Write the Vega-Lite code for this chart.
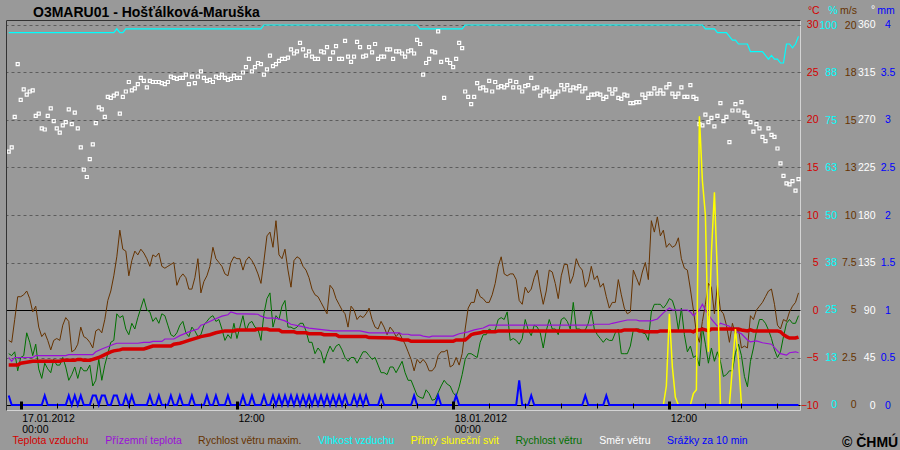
{
  "$schema": "https://vega.github.io/schema/vega-lite/v6.json",
  "width": 794,
  "height": 390,
  "autosize": {"type": "none"},
  "padding": {"left": 6, "top": 20, "right": 100, "bottom": 40},
  "background": "#999999",
  "config": {
    "view": {"stroke": "#d4d4d4", "strokeWidth": 1},
    "font": "Liberation Sans",
    "axis": {"labelFont": "Liberation Sans", "titleFont": "Liberation Sans", "labelFontSize": 10.5, "titleFontSize": 10.5, "titleFontWeight": "normal", "domain": false, "grid": false, "ticks": false, "tickSize": 0, "labelOverlap": false, "labelFlush": false, "labelBound": false}
  },
  "datasets": {
    "temp": [{"m":-40,"v":-5.8},{"m":-10,"v":-5.8},{"m":0,"v":-5.6},{"m":20,"v":-5.5},{"m":40,"v":-5.4},{"m":130,"v":-5.4},{"m":140,"v":-5.3},{"m":180,"v":-5.3},{"m":190,"v":-5.2},{"m":200,"v":-5.2},{"m":210,"v":-5.3},{"m":230,"v":-5.3},{"m":240,"v":-5.2},{"m":260,"v":-5.0},{"m":280,"v":-4.7},{"m":300,"v":-4.4},{"m":310,"v":-4.3},{"m":330,"v":-4.2},{"m":340,"v":-4.1},{"m":410,"v":-4.1},{"m":420,"v":-4.0},{"m":440,"v":-3.8},{"m":500,"v":-3.8},{"m":510,"v":-3.6},{"m":530,"v":-3.5},{"m":540,"v":-3.4},{"m":560,"v":-3.2},{"m":590,"v":-2.9},{"m":600,"v":-2.8},{"m":630,"v":-2.6},{"m":650,"v":-2.4},{"m":680,"v":-2.2},{"m":710,"v":-2.2},{"m":720,"v":-2.1},{"m":780,"v":-2.1},{"m":790,"v":-2.0},{"m":820,"v":-2.0},{"m":830,"v":-2.1},{"m":860,"v":-2.1},{"m":870,"v":-2.3},{"m":910,"v":-2.3},{"m":920,"v":-2.4},{"m":950,"v":-2.4},{"m":960,"v":-2.5},{"m":1000,"v":-2.5},{"m":1010,"v":-2.6},{"m":1050,"v":-2.6},{"m":1060,"v":-2.8},{"m":1150,"v":-2.8},{"m":1160,"v":-2.9},{"m":1240,"v":-2.95},{"m":1250,"v":-3.0},{"m":1270,"v":-3.15},{"m":1290,"v":-3.15},{"m":1300,"v":-3.3},{"m":1440,"v":-3.3},{"m":1450,"v":-3.15},{"m":1480,"v":-3.15},{"m":1490,"v":-2.9},{"m":1500,"v":-2.6},{"m":1510,"v":-2.5},{"m":1530,"v":-2.4},{"m":1540,"v":-2.3},{"m":1580,"v":-2.3},{"m":1590,"v":-2.2},{"m":2000,"v":-2.2},{"m":2010,"v":-2.1},{"m":2050,"v":-2.1},{"m":2060,"v":-2.2},{"m":2070,"v":-2.2},{"m":2080,"v":-2.3},{"m":2120,"v":-2.3},{"m":2130,"v":-2.2},{"m":2230,"v":-2.2},{"m":2240,"v":-2.3},{"m":2250,"v":-2.1},{"m":2260,"v":-2.1},{"m":2270,"v":-2.0},{"m":2280,"v":-2.1},{"m":2290,"v":-2.2},{"m":2300,"v":-2.0},{"m":2390,"v":-2.0},{"m":2400,"v":-2.1},{"m":2420,"v":-2.2},{"m":2430,"v":-2.1},{"m":2440,"v":-2.2},{"m":2520,"v":-2.2},{"m":2530,"v":-2.3},{"m":2540,"v":-2.6},{"m":2550,"v":-2.8},{"m":2560,"v":-2.95},{"m":2580,"v":-2.95},{"m":2590,"v":-2.85}],
    "ground": [{"m":-40,"v":-5.0},{"m":-30,"v":-5.4},{"m":-20,"v":-5.0},{"m":40,"v":-5.0},{"m":50,"v":-4.8},{"m":150,"v":-4.8},{"m":160,"v":-4.7},{"m":240,"v":-4.7},{"m":250,"v":-4.4},{"m":270,"v":-4.1},{"m":310,"v":-3.6},{"m":320,"v":-3.5},{"m":390,"v":-3.5},{"m":410,"v":-3.4},{"m":430,"v":-3.4},{"m":440,"v":-3.3},{"m":470,"v":-3.3},{"m":480,"v":-3.05},{"m":510,"v":-3.05},{"m":530,"v":-2.7},{"m":560,"v":-2.3},{"m":590,"v":-2.0},{"m":600,"v":-1.6},{"m":610,"v":-1.5},{"m":640,"v":-1.05},{"m":670,"v":-0.65},{"m":690,"v":-0.5},{"m":700,"v":-0.2},{"m":720,"v":-0.4},{"m":740,"v":-0.4},{"m":790,"v":-0.45},{"m":800,"v":-0.65},{"m":820,"v":-0.85},{"m":850,"v":-0.85},{"m":880,"v":-1.15},{"m":900,"v":-1.5},{"m":930,"v":-1.7},{"m":960,"v":-1.9},{"m":1010,"v":-2.1},{"m":1040,"v":-2.2},{"m":1130,"v":-2.2},{"m":1160,"v":-2.4},{"m":1260,"v":-2.4},{"m":1270,"v":-2.55},{"m":1290,"v":-2.55},{"m":1300,"v":-2.65},{"m":1330,"v":-2.65},{"m":1340,"v":-2.75},{"m":1360,"v":-2.85},{"m":1370,"v":-2.75},{"m":1440,"v":-2.75},{"m":1460,"v":-2.5},{"m":1490,"v":-2.3},{"m":1510,"v":-2.1},{"m":1540,"v":-1.9},{"m":1560,"v":-1.6},{"m":1900,"v":-1.6},{"m":1910,"v":-1.5},{"m":1960,"v":-1.5},{"m":1970,"v":-1.4},{"m":2020,"v":-1.05},{"m":2050,"v":-1.05},{"m":2060,"v":-1.15},{"m":2100,"v":-1.15},{"m":2120,"v":-0.95},{"m":2140,"v":-0.3},{"m":2160,"v":0.2},{"m":2170,"v":0.0},{"m":2220,"v":0.0},{"m":2230,"v":-0.2},{"m":2240,"v":-0.6},{"m":2260,"v":0.0},{"m":2270,"v":0.6},{"m":2280,"v":0.0},{"m":2300,"v":-0.95},{"m":2320,"v":-1.7},{"m":2330,"v":-1.4},{"m":2340,"v":-1.5},{"m":2360,"v":-1.7},{"m":2370,"v":-2.1},{"m":2400,"v":-2.5},{"m":2420,"v":-3.15},{"m":2430,"v":-3.35},{"m":2450,"v":-3.25},{"m":2470,"v":-3.45},{"m":2500,"v":-3.6},{"m":2520,"v":-4.3},{"m":2530,"v":-4.6},{"m":2550,"v":-4.75},{"m":2560,"v":-4.5},{"m":2580,"v":-4.4},{"m":2590,"v":-4.5}],
    "hum": [{"m":-40,"v":98},{"m":310,"v":98},{"m":320,"v":99},{"m":330,"v":98},{"m":340,"v":98},{"m":350,"v":99},{"m":800,"v":99},{"m":810,"v":100},{"m":1320,"v":100},{"m":1330,"v":99},{"m":1470,"v":99},{"m":1480,"v":100},{"m":2270,"v":100},{"m":2280,"v":99},{"m":2310,"v":99},{"m":2320,"v":98},{"m":2350,"v":98},{"m":2360,"v":97},{"m":2370,"v":96},{"m":2380,"v":96},{"m":2390,"v":95},{"m":2420,"v":95},{"m":2430,"v":93},{"m":2470,"v":93},{"m":2480,"v":92},{"m":2490,"v":91},{"m":2500,"v":92},{"m":2510,"v":91},{"m":2520,"v":91},{"m":2530,"v":90},{"m":2540,"v":90},{"m":2550,"v":95},{"m":2560,"v":95},{"m":2570,"v":94},{"m":2580,"v":95},{"m":2590,"v":97}],
    "sun": [{"m":2140,"v":0},{"m":2150,"v":0.5},{"m":2160,"v":2.4},{"m":2170,"v":1.0},{"m":2180,"v":0.2},{"m":2190,"v":0},{"m":2230,"v":0},{"m":2240,"v":0.3},{"m":2250,"v":0.4},{"m":2260,"v":7.6},{"m":2270,"v":5.9},{"m":2280,"v":5.0},{"m":2290,"v":1.4},{"m":2300,"v":4.0},{"m":2310,"v":5.6},{"m":2320,"v":3.4},{"m":2330,"v":0},{"m":2360,"v":0},{"m":2370,"v":1.0},{"m":2380,"v":2.0},{"m":2390,"v":1.2},{"m":2400,"v":0}],
    "wide": [
{"m":-40,"W":3.4,"V":2.7,"D":240,"P":0.1},{"m":-30,"W":3.3,"V":2.6,"D":244,"P":0},{"m":-20,"W":4.5,"V":2.8,"D":273,"P":0},{"m":-10,"W":5.7,"V":1.8,"D":323,"P":0},{"m":0,"W":5.7,"V":2.5,"D":289,"P":0},{"m":10,"W":5.8,"V":2.6,"D":299,"P":0},{"m":20,"W":6.0,"V":3.8,"D":294,"P":0},{"m":30,"W":5.6,"V":3.3,"D":297,"P":0},{"m":40,"W":4.9,"V":2.6,"D":298,"P":0},{"m":50,"W":5.2,"V":3.2,"D":274,"P":0},
{"m":60,"W":4.1,"V":1.9,"D":276,"P":0},{"m":70,"W":3.6,"V":1.4,"D":262,"P":0},{"m":80,"W":3.8,"V":2.2,"D":261,"P":0.1},{"m":90,"W":3.4,"V":1.9,"D":274,"P":0},{"m":100,"W":2.9,"V":1.7,"D":281,"P":0},{"m":110,"W":3.4,"V":2.4,"D":269,"P":0},{"m":120,"W":3.5,"V":2.1,"D":262,"P":0},{"m":130,"W":3.4,"V":2.1,"D":258,"P":0},{"m":140,"W":4.2,"V":2.5,"D":265,"P":0},{"m":150,"W":4.6,"V":2.0,"D":268,"P":0},
{"m":160,"W":4.4,"V":1.3,"D":280,"P":0.1},{"m":170,"W":2.8,"V":1.6,"D":266,"P":0},{"m":180,"W":2.9,"V":2.0,"D":277,"P":0.1},{"m":190,"W":3.2,"V":1.4,"D":262,"P":0},{"m":200,"W":4.1,"V":2.0,"D":244,"P":0.1},{"m":210,"W":3.6,"V":1.8,"D":223,"P":0},{"m":220,"W":3.5,"V":1.8,"D":216,"P":0},{"m":230,"W":3.3,"V":2.1,"D":233,"P":0},{"m":240,"W":3.0,"V":1.0,"D":247,"P":0.1},{"m":250,"W":3.9,"V":1.3,"D":267,"P":0.1},
{"m":260,"W":4.0,"V":2.4,"D":282,"P":0},{"m":270,"W":3.8,"V":1.3,"D":280,"P":0.1},{"m":280,"W":4.5,"V":2.1,"D":273,"P":0.1},{"m":290,"W":5.5,"V":2.7,"D":292,"P":0},{"m":300,"W":6.0,"V":3.3,"D":291,"P":0},{"m":310,"W":6.8,"V":3.4,"D":293,"P":0.1},{"m":320,"W":7.8,"V":4.8,"D":295,"P":0.1},{"m":330,"W":9.2,"V":4.6,"D":276,"P":0},{"m":340,"W":8.2,"V":4.7,"D":292,"P":0},{"m":350,"W":8.1,"V":4.0,"D":297,"P":0.1},
{"m":360,"W":6.8,"V":3.7,"D":306,"P":0},{"m":370,"W":7.6,"V":4.3,"D":298,"P":0.1},{"m":380,"W":8.1,"V":4.0,"D":300,"P":0},{"m":390,"W":7.9,"V":4.6,"D":304,"P":0},{"m":400,"W":8.2,"V":5.1,"D":310,"P":0},{"m":410,"W":8.0,"V":5.6,"D":307,"P":0},{"m":420,"W":7.7,"V":5.0,"D":301,"P":0},{"m":430,"W":7.3,"V":4.9,"D":307,"P":0.1},{"m":440,"W":7.9,"V":4.4,"D":306,"P":0},{"m":450,"W":7.8,"V":4.6,"D":306,"P":0},
{"m":460,"W":8.0,"V":4.3,"D":306,"P":0.1},{"m":470,"W":7.3,"V":4.8,"D":305,"P":0},{"m":480,"W":7.2,"V":4.7,"D":304,"P":0},{"m":490,"W":7.3,"V":4.2,"D":306,"P":0},{"m":500,"W":7.4,"V":3.7,"D":311,"P":0.1},{"m":510,"W":7.5,"V":3.6,"D":310,"P":0},{"m":520,"W":6.3,"V":3.8,"D":309,"P":0},{"m":530,"W":6.7,"V":4.2,"D":310,"P":0.1},{"m":540,"W":6.9,"V":4.4,"D":310,"P":0},{"m":550,"W":6.7,"V":3.8,"D":313,"P":0},
{"m":560,"W":6.1,"V":3.6,"D":304,"P":0},{"m":570,"W":6.1,"V":4.1,"D":311,"P":0.1},{"m":580,"W":6.7,"V":3.9,"D":305,"P":0},{"m":590,"W":7.7,"V":3.6,"D":311,"P":0},{"m":600,"W":5.9,"V":3.7,"D":316,"P":0},{"m":610,"W":6.5,"V":4.2,"D":310,"P":0},{"m":620,"W":6.8,"V":4.4,"D":307,"P":0.1},{"m":630,"W":7.3,"V":4.6,"D":308,"P":0},{"m":640,"W":8.3,"V":4.7,"D":306,"P":0},{"m":650,"W":7.7,"V":4.4,"D":311,"P":0.1},
{"m":660,"W":7.5,"V":4.5,"D":310,"P":0},{"m":670,"W":7.3,"V":4.0,"D":313,"P":0},{"m":680,"W":6.9,"V":3.4,"D":310,"P":0},{"m":690,"W":6.8,"V":3.7,"D":308,"P":0.1},{"m":700,"W":7.5,"V":3.5,"D":309,"P":0},{"m":710,"W":7.8,"V":4.3,"D":312,"P":0},{"m":720,"W":7.7,"V":3.5,"D":310,"P":0},{"m":730,"W":7.7,"V":4.1,"D":310,"P":0},{"m":740,"W":7.1,"V":4.7,"D":315,"P":0.1},{"m":750,"W":7.6,"V":3.9,"D":320,"P":0},
{"m":760,"W":7.8,"V":4.3,"D":328,"P":0},{"m":770,"W":7.6,"V":4.4,"D":316,"P":0.1},{"m":780,"W":7.3,"V":4.1,"D":320,"P":0},{"m":790,"W":6.9,"V":4.0,"D":324,"P":0},{"m":800,"W":6.4,"V":3.4,"D":323,"P":0},{"m":810,"W":7.6,"V":4.8,"D":313,"P":0.1},{"m":820,"W":8.9,"V":5.6,"D":318,"P":0},{"m":830,"W":9.1,"V":5.9,"D":331,"P":0},{"m":840,"W":8.3,"V":4.1,"D":321,"P":0.1},{"m":850,"W":9.7,"V":4.7,"D":323,"P":0},
{"m":860,"W":7.9,"V":4.5,"D":326,"P":0.1},{"m":870,"W":7.7,"V":5.2,"D":328,"P":0},{"m":880,"W":8.2,"V":5.5,"D":328,"P":0.1},{"m":890,"W":7.1,"V":4.1,"D":329,"P":0},{"m":900,"W":6.2,"V":4.1,"D":337,"P":0.1},{"m":910,"W":7.6,"V":4.0,"D":333,"P":0},{"m":920,"W":7.8,"V":4.1,"D":335,"P":0.1},{"m":930,"W":7.7,"V":4.3,"D":343,"P":0},{"m":940,"W":7.3,"V":4.3,"D":337,"P":0.1},{"m":950,"W":7.1,"V":3.9,"D":331,"P":0},
{"m":960,"W":6.7,"V":3.3,"D":335,"P":0.1},{"m":970,"W":6.1,"V":3.3,"D":330,"P":0},{"m":980,"W":5.8,"V":2.7,"D":328,"P":0.1},{"m":990,"W":5.7,"V":3.0,"D":328,"P":0},{"m":1000,"W":5.4,"V":2.8,"D":335,"P":0.1},{"m":1010,"W":5.1,"V":2.2,"D":334,"P":0},{"m":1020,"W":4.8,"V":2.7,"D":339,"P":0.1},{"m":1030,"W":6.3,"V":3.1,"D":328,"P":0},{"m":1040,"W":6.1,"V":2.8,"D":334,"P":0.1},{"m":1050,"W":5.6,"V":3.1,"D":340,"P":0},
{"m":1060,"W":5.3,"V":3.2,"D":328,"P":0.1},{"m":1070,"W":5.0,"V":2.9,"D":328,"P":0},{"m":1080,"W":4.8,"V":2.5,"D":345,"P":0.1},{"m":1090,"W":4.1,"V":2.3,"D":330,"P":0},{"m":1100,"W":5.2,"V":2.5,"D":325,"P":0},{"m":1110,"W":5.0,"V":2.5,"D":330,"P":0.1},{"m":1120,"W":4.5,"V":2.2,"D":344,"P":0},{"m":1130,"W":4.7,"V":2.5,"D":339,"P":0.1},{"m":1140,"W":4.6,"V":2.8,"D":330,"P":0},{"m":1150,"W":4.8,"V":2.8,"D":331,"P":0.1},
{"m":1160,"W":5.1,"V":2.6,"D":339,"P":0},{"m":1170,"W":4.5,"V":2.4,"D":334,"P":0},{"m":1180,"W":4.1,"V":2.5,"D":342,"P":0},{"m":1190,"W":4.0,"V":2.1,"D":328,"P":0},{"m":1200,"W":4.4,"V":1.7,"D":330,"P":0.1},{"m":1210,"W":4.1,"V":1.7,"D":330,"P":0},{"m":1220,"W":3.7,"V":1.6,"D":337,"P":0},{"m":1230,"W":4.1,"V":2.0,"D":337,"P":0},{"m":1240,"W":3.9,"V":2.0,"D":328,"P":0},{"m":1250,"W":3.6,"V":1.7,"D":335,"P":0},
{"m":1260,"W":3.8,"V":2.0,"D":335,"P":0},{"m":1270,"W":3.5,"V":2.3,"D":333,"P":0},{"m":1280,"W":3.2,"V":1.7,"D":330,"P":0},{"m":1290,"W":2.8,"V":1.3,"D":335,"P":0},{"m":1300,"W":2.4,"V":1.3,"D":336,"P":0},{"m":1310,"W":1.8,"V":0.9,"D":333,"P":0.1},{"m":1320,"W":2.4,"V":0.5,"D":346,"P":0},{"m":1330,"W":2.2,"V":0.4,"D":342,"P":0},{"m":1340,"W":2.4,"V":0.35,"D":313,"P":0},{"m":1350,"W":2.2,"V":0.8,"D":324,"P":0},
{"m":1360,"W":1.8,"V":0.6,"D":328,"P":0},{"m":1370,"W":1.8,"V":0.25,"D":335,"P":0},{"m":1380,"W":2.0,"V":0.3,"D":334,"P":0},{"m":1390,"W":2.6,"V":0.65,"D":354,"P":0.1},{"m":1400,"W":2.8,"V":1.0,"D":325,"P":0},{"m":1410,"W":2.8,"V":1.3,"D":291,"P":0},{"m":1420,"W":2.9,"V":1.1,"D":327,"P":0},{"m":1430,"W":2.0,"V":1.0,"D":324,"P":0},{"m":1440,"W":2.1,"V":0.65,"D":320,"P":0},{"m":1450,"W":2.5,"V":0.45,"D":328,"P":0.1},
{"m":1460,"W":2.1,"V":0.95,"D":343,"P":0},{"m":1470,"W":2.7,"V":1.6,"D":338,"P":0},{"m":1480,"W":4.0,"V":2.4,"D":297,"P":0},{"m":1490,"W":5.1,"V":2.7,"D":292,"P":0},{"m":1500,"W":5.4,"V":2.7,"D":285,"P":0},{"m":1510,"W":5.4,"V":2.6,"D":292,"P":0},{"m":1520,"W":6.1,"V":2.5,"D":305,"P":0},{"m":1530,"W":5.7,"V":3.3,"D":300,"P":0},{"m":1540,"W":5.6,"V":3.7,"D":301,"P":0},{"m":1550,"W":5.4,"V":3.7,"D":298,"P":0},
{"m":1560,"W":5.4,"V":4.0,"D":307,"P":0},{"m":1570,"W":5.8,"V":3.9,"D":297,"P":0},{"m":1580,"W":6.4,"V":3.95,"D":306,"P":0},{"m":1590,"W":7.3,"V":4.5,"D":301,"P":0},{"m":1600,"W":7.8,"V":4.6,"D":302,"P":0},{"m":1610,"W":6.9,"V":4.5,"D":301,"P":0},{"m":1620,"W":6.8,"V":4.9,"D":303,"P":0},{"m":1630,"W":6.9,"V":3.4,"D":307,"P":0},{"m":1640,"W":6.9,"V":3.5,"D":301,"P":0},{"m":1650,"W":6.6,"V":3.4,"D":306,"P":0},
{"m":1660,"W":5.5,"V":3.2,"D":301,"P":0.26},{"m":1670,"W":5.3,"V":3.5,"D":297,"P":0},{"m":1680,"W":6.2,"V":4.5,"D":302,"P":0},{"m":1690,"W":5.9,"V":3.95,"D":303,"P":0},{"m":1700,"W":6.1,"V":3.65,"D":310,"P":0.1},{"m":1710,"W":6.7,"V":4.2,"D":300,"P":0},{"m":1720,"W":7.1,"V":4.1,"D":301,"P":0},{"m":1730,"W":6.1,"V":3.8,"D":293,"P":0},{"m":1740,"W":5.3,"V":3.0,"D":297,"P":0},{"m":1750,"W":6.0,"V":3.9,"D":299,"P":0},
{"m":1760,"W":7.1,"V":4.5,"D":297,"P":0},{"m":1770,"W":7.0,"V":4.0,"D":292,"P":0},{"m":1780,"W":6.4,"V":4.0,"D":295,"P":0},{"m":1790,"W":5.6,"V":3.7,"D":297,"P":0},{"m":1800,"W":6.8,"V":4.5,"D":303,"P":0},{"m":1810,"W":7.4,"V":4.6,"D":299,"P":0},{"m":1820,"W":7.4,"V":4.4,"D":303,"P":0},{"m":1830,"W":6.4,"V":4.0,"D":298,"P":0},{"m":1840,"W":6.8,"V":5.4,"D":301,"P":0},{"m":1850,"W":7.7,"V":4.0,"D":300,"P":0},
{"m":1860,"W":7.3,"V":4.0,"D":302,"P":0},{"m":1870,"W":7.1,"V":3.9,"D":297,"P":0},{"m":1880,"W":6.2,"V":3.95,"D":300,"P":0.1},{"m":1890,"W":6.5,"V":4.3,"D":291,"P":0},{"m":1900,"W":7.3,"V":5.0,"D":294,"P":0},{"m":1910,"W":6.6,"V":4.0,"D":294,"P":0},{"m":1920,"W":6.8,"V":3.7,"D":295,"P":0},{"m":1930,"W":6.2,"V":3.5,"D":294,"P":0},{"m":1940,"W":6.4,"V":3.3,"D":290,"P":0},{"m":1950,"W":5.7,"V":3.5,"D":292,"P":0.1},
{"m":1960,"W":5.1,"V":3.4,"D":299,"P":0},{"m":1970,"W":5.4,"V":3.4,"D":295,"P":0},{"m":1980,"W":5.4,"V":3.8,"D":299,"P":0},{"m":1990,"W":6.6,"V":4.0,"D":291,"P":0},{"m":2000,"W":5.8,"V":2.7,"D":290,"P":0},{"m":2010,"W":5.1,"V":2.7,"D":294,"P":0},{"m":2020,"W":4.8,"V":2.7,"D":293,"P":0},{"m":2030,"W":4.9,"V":3.1,"D":286,"P":0},{"m":2040,"W":7.1,"V":3.95,"D":286,"P":0},{"m":2050,"W":6.7,"V":4.0,"D":287,"P":0},
{"m":2060,"W":6.3,"V":4.0,"D":287,"P":0},{"m":2070,"W":7.0,"V":3.8,"D":294,"P":0},{"m":2080,"W":7.5,"V":3.75,"D":291,"P":0},{"m":2090,"W":6.6,"V":3.4,"D":295,"P":0},{"m":2100,"W":9.7,"V":4.9,"D":295,"P":0},{"m":2110,"W":9.1,"V":5.3,"D":300,"P":0},{"m":2120,"W":9.9,"V":5.3,"D":295,"P":0},{"m":2130,"W":8.9,"V":5.3,"D":298,"P":0},{"m":2140,"W":9.2,"V":5.1,"D":295,"P":0},{"m":2150,"W":8.3,"V":5.3,"D":301,"P":0},
{"m":2160,"W":8.5,"V":5.6,"D":304,"P":0},{"m":2170,"W":8.3,"V":5.5,"D":295,"P":0},{"m":2180,"W":8.4,"V":5.0,"D":292,"P":0},{"m":2190,"W":8.8,"V":3.95,"D":295,"P":0},{"m":2200,"W":7.7,"V":5.1,"D":301,"P":0},{"m":2210,"W":7.2,"V":3.7,"D":292,"P":0},{"m":2220,"W":7.1,"V":2.8,"D":292,"P":0},{"m":2230,"W":6.1,"V":3.1,"D":303,"P":0},{"m":2240,"W":5.0,"V":2.5,"D":292,"P":0},{"m":2250,"W":3.8,"V":2.6,"D":290,"P":0},
{"m":2260,"W":3.3,"V":2.05,"D":266,"P":0},{"m":2270,"W":4.4,"V":4.1,"D":265,"P":0},{"m":2280,"W":5.3,"V":3.2,"D":275,"P":0},{"m":2290,"W":6.4,"V":2.2,"D":268,"P":0},{"m":2300,"W":6.2,"V":3.0,"D":272,"P":0},{"m":2310,"W":4.8,"V":2.3,"D":264,"P":0},{"m":2320,"W":6.3,"V":2.8,"D":274,"P":0},{"m":2330,"W":5.0,"V":2.3,"D":286,"P":0},{"m":2340,"W":4.8,"V":1.5,"D":269,"P":0},{"m":2350,"W":4.2,"V":1.6,"D":273,"P":0},
{"m":2360,"W":3.3,"V":1.8,"D":249,"P":0},{"m":2370,"W":4.3,"V":1.8,"D":279,"P":0},{"m":2380,"W":3.7,"V":2.75,"D":285,"P":0},{"m":2390,"W":4.0,"V":3.2,"D":279,"P":0},{"m":2400,"W":3.0,"V":2.6,"D":287,"P":0},{"m":2410,"W":3.1,"V":1.5,"D":277,"P":0},{"m":2420,"W":3.0,"V":0.96,"D":274,"P":0},{"m":2430,"W":4.7,"V":2.3,"D":268,"P":0},{"m":2440,"W":4.5,"V":3.0,"D":259,"P":0},{"m":2450,"W":5.0,"V":3.9,"D":266,"P":0},
{"m":2460,"W":5.2,"V":4.5,"D":262,"P":0},{"m":2470,"W":5.4,"V":4.5,"D":254,"P":0},{"m":2480,"W":5.7,"V":4.3,"D":250,"P":0},{"m":2490,"W":6.0,"V":3.95,"D":262,"P":0},{"m":2500,"W":6.1,"V":3.5,"D":256,"P":0},{"m":2510,"W":5.3,"V":2.9,"D":254,"P":0},{"m":2520,"W":4.2,"V":2.5,"D":243,"P":0},{"m":2530,"W":4.0,"V":2.8,"D":229,"P":0},{"m":2540,"W":4.5,"V":3.6,"D":217,"P":0},{"m":2550,"W":4.4,"V":4.3,"D":210,"P":0},
{"m":2560,"W":4.9,"V":4.5,"D":209,"P":0},{"m":2570,"W":5.2,"V":4.3,"D":212,"P":0},{"m":2580,"W":5.4,"V":4.3,"D":203,"P":0},{"m":2590,"W":5.9,"V":4.7,"D":214,"P":0}
    ]
  },
  "resolve": {"scale": {"y": "independent"}, "axis": {"y": "independent", "x": "independent"}},
  "layer": [
    {
      "data": {"name": "hum"},
      "mark": {"type": "line", "strokeWidth": 1.2},
      "encoding": {
        "x": {"field": "m", "type": "quantitative", "scale": {"domain": [-49, 2595], "nice": false, "zero": false},
          "axis": {"orient": "bottom", "values": [0, 720, 1440, 2160], "labelExpr": "datum.value == 0 ? ['17.01.2012', '00:00'] : datum.value == 1440 ? ['18.01.2012', '00:00'] : '12:00'", "labelAlign": "left", "labelBaseline": "top", "labelPadding": 3.5, "labelOffset": 1, "labelColor": "#000000", "labelLineHeight": 11.3, "title": null}},
        "y": {"field": "v", "type": "quantitative", "scale": {"domain": [-1.3158, 101.3158], "nice": false, "zero": false},
          "axis": {"orient": "right", "values": [0, 12.5, 25, 37.5, 50, 62.5, 75, 87.5, 100], "labelExpr": "'' + round(datum.value)", "labelColor": "#00ffff", "labelAlign": "right", "labelPadding": 36.5, "title": "%", "titleAngle": 0, "titleX": 32.5, "titleY": -10, "titleAlign": "center", "titleBaseline": "middle", "titleColor": "#00ffff"}},
        "color": {"datum": "Vlhkost vzduchu", "type": "nominal",
          "scale": {"domain": ["Teplota vzduchu", "Přízemní teplota", "Rychlost větru maxim.", "Vlhkost vzduchu", "Přímý sluneční svit", "Rychlost větru", "Směr větru", "Srážky za 10 min"], "range": ["#d40000", "#9a10d8", "#663300", "#00ffff", "#ffff00", "#007000", "#ffffff", "#0000ff"]},
          "legend": {"orient": "none", "legendX": -4, "legendY": 416, "direction": "horizontal", "columns": 8, "title": null, "symbolSize": 0, "symbolOpacity": 0, "symbolStrokeWidth": 0, "labelOffset": 0, "columnPadding": 5.8, "rowPadding": 0, "padding": 0, "labelFont": "Liberation Sans", "labelFontSize": 10.5, "labelLimit": 300, "encode": {"labels": {"update": {"fill": {"scale": "color", "field": "value"}}}}}}
      }
    },
    {
      "data": {"name": "wide"},
      "mark": {"type": "point", "shape": "square", "filled": false, "size": 9, "strokeWidth": 1.2, "opacity": 1},
      "encoding": {
        "x": {"field": "m", "type": "quantitative",
          "axis": {"orient": "bottom", "offset": -9, "values": [0, 720, 1440, 2160], "labels": false, "ticks": true, "tickSize": 8, "tickWidth": 3, "tickColor": "#000000", "title": null, "zindex": 2}},
        "y": {"field": "D", "type": "quantitative", "scale": {"domain": [-4.7368, 364.7368], "nice": false, "zero": false},
          "axis": {"orient": "right", "values": [0, 45, 90, 135, 180, 225, 270, 315, 360], "labelColor": "#ffffff", "labelAlign": "right", "labelPadding": 75, "title": "°", "titleAngle": 0, "titleX": 72.5, "titleY": -11, "titleAlign": "center", "titleBaseline": "middle", "titleColor": "#ffffff"}},
        "color": {"datum": "Směr větru", "type": "nominal",
          "scale": {"domain": ["Teplota vzduchu", "Přízemní teplota", "Rychlost větru maxim.", "Vlhkost vzduchu", "Přímý sluneční svit", "Rychlost větru", "Směr větru", "Srážky za 10 min"], "range": ["#d40000", "#9a10d8", "#663300", "#00ffff", "#ffff00", "#007000", "#ffffff", "#0000ff"]}}
      }
    },
    {
      "data": {"name": "wide"},
      "encoding": {
        "x": {"field": "m", "type": "quantitative",
          "axis": {"orient": "bottom", "offset": -7, "values": [120, 240, 360, 480, 600, 840, 960, 1080, 1200, 1320, 1560, 1680, 1800, 1920, 2040, 2280, 2400, 2520], "labels": false, "ticks": true, "tickSize": 5, "tickWidth": 1, "tickColor": "#000000", "zindex": 2,
            "title": "© ČHMÚ", "titleX": 835.5, "titleY": 43, "titleAlign": "left", "titleBaseline": "alphabetic", "titleFontSize": 14, "titleFontWeight": "bold", "titleColor": "#000000"}}
      },
      "layer": [
        {
          "mark": {"type": "line", "strokeWidth": 1},
          "encoding": {
            "y": {"field": "W", "type": "quantitative", "scale": {"domain": [-0.2632, 20.2632], "nice": false, "zero": false},
              "axis": {"orient": "right", "values": [0, 2.5, 5, 7.5, 10, 12.5, 15, 17.5, 20], "labelExpr": "datum.value >= 10 ? '' + round(datum.value) : '' + datum.value", "labelColor": "#663300", "labelAlign": "right", "labelPadding": 56, "title": "m/s", "titleAngle": 0, "titleX": 48, "titleY": -10, "titleAlign": "center", "titleBaseline": "middle", "titleColor": "#663300"}},
            "color": {"datum": "Rychlost větru maxim.", "type": "nominal",
              "scale": {"domain": ["Teplota vzduchu", "Přízemní teplota", "Rychlost větru maxim.", "Vlhkost vzduchu", "Přímý sluneční svit", "Rychlost větru", "Směr větru", "Srážky za 10 min"], "range": ["#d40000", "#9a10d8", "#663300", "#00ffff", "#ffff00", "#007000", "#ffffff", "#0000ff"]}}
          }
        },
        {
          "mark": {"type": "line", "strokeWidth": 1},
          "encoding": {
            "y": {"field": "V", "type": "quantitative",
              "axis": {"orient": "right", "values": [0, 2.5, 5, 7.5, 10, 12.5, 15, 17.5, 20], "labelExpr": "datum.value >= 10 ? '' + round(datum.value) : '' + datum.value", "labelColor": "#663300", "labelAlign": "right", "labelPadding": 56, "title": "m/s", "titleAngle": 0, "titleX": 48, "titleY": -10, "titleAlign": "center", "titleBaseline": "middle", "titleColor": "#663300"}},
            "color": {"datum": "Rychlost větru", "type": "nominal",
              "scale": {"domain": ["Teplota vzduchu", "Přízemní teplota", "Rychlost větru maxim.", "Vlhkost vzduchu", "Přímý sluneční svit", "Rychlost větru", "Směr větru", "Srážky za 10 min"], "range": ["#d40000", "#9a10d8", "#663300", "#00ffff", "#ffff00", "#007000", "#ffffff", "#0000ff"]}}
          }
        }
      ]
    },
    {
      "encoding": {
        "x": {"field": "m", "type": "quantitative",
          "axis": {"orient": "top", "domain": true, "domainColor": "#333333", "domainWidth": 1, "labels": false, "ticks": false, "zindex": 2,
            "title": "O3MARU01  - Hošťálková-Maruška", "titleX": 26.5, "titleY": -4, "titleAlign": "left", "titleBaseline": "alphabetic", "titleFontSize": 14, "titleFontWeight": "bold", "titleColor": "#000000"}},
        "y": {"field": "v", "type": "quantitative", "scale": {"domain": [-10.5263, 30.5263], "nice": false, "zero": false},
          "axis": {"orient": "right", "values": [-10, -5, 0, 5, 10, 15, 20, 25, 30], "labelColor": "#d40000", "labelAlign": "right", "labelPadding": 18, "grid": true, "gridWidth": 1,
            "gridColor": {"condition": {"test": "datum.value === 0 || datum.value === -10", "value": "#000000"}, "value": "#5c5c5c"},
            "gridDash": {"condition": {"test": "datum.value === 0 || datum.value === -10", "value": []}, "value": [3, 3]},
            "title": "°C", "titleAngle": 0, "titleX": 13.3, "titleY": -10, "titleAlign": "center", "titleBaseline": "middle", "titleColor": "#d40000"}}
      },
      "layer": [
        {
          "data": {"name": "ground"},
          "mark": {"type": "line", "strokeWidth": 1.2},
          "encoding": {
            "color": {"datum": "Přízemní teplota", "type": "nominal",
              "scale": {"domain": ["Teplota vzduchu", "Přízemní teplota", "Rychlost větru maxim.", "Vlhkost vzduchu", "Přímý sluneční svit", "Rychlost větru", "Směr větru", "Srážky za 10 min"], "range": ["#d40000", "#9a10d8", "#663300", "#00ffff", "#ffff00", "#007000", "#ffffff", "#0000ff"]}}
          }
        },
        {
          "data": {"name": "temp"},
          "mark": {"type": "line", "strokeWidth": 3.5},
          "encoding": {
            "color": {"datum": "Teplota vzduchu", "type": "nominal",
              "scale": {"domain": ["Teplota vzduchu", "Přízemní teplota", "Rychlost větru maxim.", "Vlhkost vzduchu", "Přímý sluneční svit", "Rychlost větru", "Směr větru", "Srážky za 10 min"], "range": ["#d40000", "#9a10d8", "#663300", "#00ffff", "#ffff00", "#007000", "#ffffff", "#0000ff"]}}
          }
        }
      ]
    },
    {
      "data": {"name": "sun"},
      "mark": {"type": "line", "strokeWidth": 1.5},
      "encoding": {
        "x": {"field": "m", "type": "quantitative", "axis": null},
        "y": {"field": "v", "type": "quantitative", "scale": {"domain": [-0.1316, 10.1316], "nice": false, "zero": false},
          "axis": {"orient": "left", "domain": true, "domainColor": "#333333", "labels": false, "ticks": false, "title": null, "zindex": 2}},
        "color": {"datum": "Přímý sluneční svit", "type": "nominal",
          "scale": {"domain": ["Teplota vzduchu", "Přízemní teplota", "Rychlost větru maxim.", "Vlhkost vzduchu", "Přímý sluneční svit", "Rychlost větru", "Směr větru", "Srážky za 10 min"], "range": ["#d40000", "#9a10d8", "#663300", "#00ffff", "#ffff00", "#007000", "#ffffff", "#0000ff"]}}
      }
    },
    {
      "data": {"name": "wide"},
      "mark": {"type": "line", "strokeWidth": 2},
      "encoding": {
        "x": {"field": "m", "type": "quantitative", "axis": null},
        "y": {"field": "P", "type": "quantitative", "scale": {"domain": [-0.0526, 4.0526], "nice": false, "zero": false},
          "axis": {"orient": "right", "values": [0, 0.5, 1, 1.5, 2, 2.5, 3, 3.5, 4], "labelExpr": "'' + datum.value", "labelColor": "#0000ff", "labelAlign": "center", "labelPadding": 87.5, "title": "mm", "titleAngle": 0, "titleX": 85.5, "titleY": -10, "titleAlign": "center", "titleBaseline": "middle", "titleColor": "#0000ff"}},
        "color": {"datum": "Srážky za 10 min", "type": "nominal",
          "scale": {"domain": ["Teplota vzduchu", "Přízemní teplota", "Rychlost větru maxim.", "Vlhkost vzduchu", "Přímý sluneční svit", "Rychlost větru", "Směr větru", "Srážky za 10 min"], "range": ["#d40000", "#9a10d8", "#663300", "#00ffff", "#ffff00", "#007000", "#ffffff", "#0000ff"]}}
      }
    }
  ]
}
